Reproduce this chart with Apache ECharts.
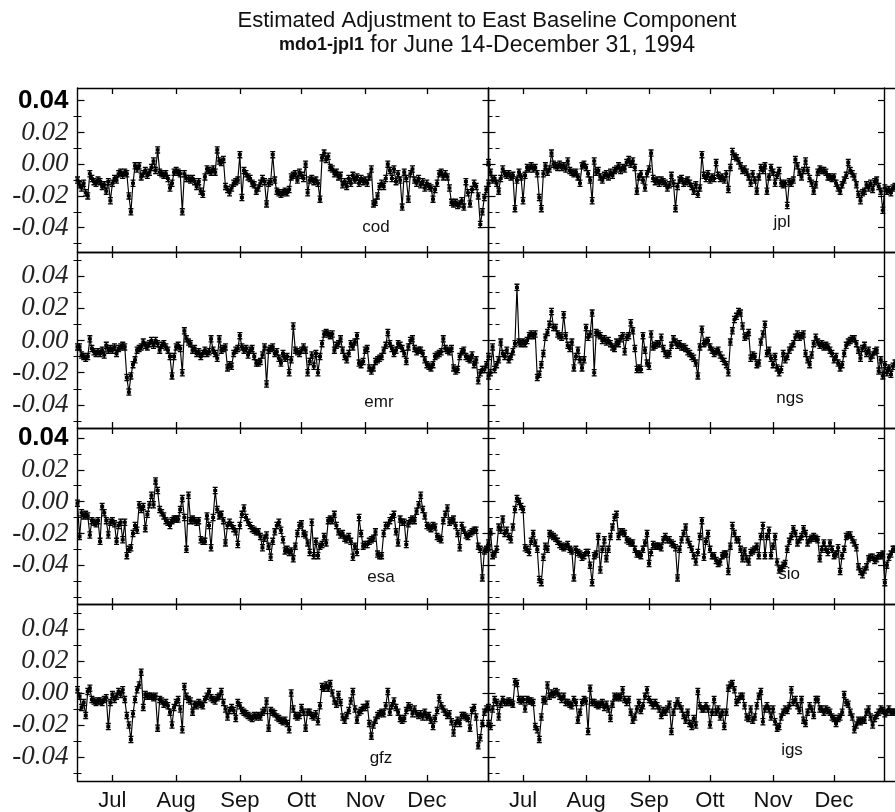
<!DOCTYPE html>
<html><head><meta charset="utf-8">
<script src="https://cdn.jsdelivr.net/npm/echarts@6/dist/echarts.min.js"></script>
<style>html,body{margin:0;padding:0;background:#fff}#c{width:895px;height:812px}</style>
</head><body><div id="c"></div>
<script>
// x = day index: 0 = 1994-06-14 ... 200 = 1994-12-31. Series values in millimetres (plotted in metres).
const monthTickDays = [17, 48, 79, 109, 140, 170];
const monthLabels = ['Jul', 'Aug', 'Sep', 'Ott', 'Nov', 'Dec'];
const yMajorTicks = [-0.04, -0.02, 0, 0.02, 0.04];
const yMinorTicks = [-0.06, -0.05, -0.03, -0.01, 0.01, 0.03, 0.05];
const panelNames = ['cod', 'jpl', 'emr', 'ngs', 'esa', 'sio', 'gfz', 'igs'];

const cod = [-10,-13,-15,-12,-18,-20,-6,-9,-11,-12,-10,-11,-14,-13,-17,-11,-23,-12,-9,-10,-6,-5,-7,-5,-6,-20,-30,-12,-1,-3,-1,-8,-6,-4,-7,-5,-2,2,-4,9,-5,-6,-7,-6,-9,-15,-12,-5,-4,-5,-6,-30,-6,-9,-9,-10,-9,-11,-14,-11,-17,-19,-8,-3,-4,-5,-3,-5,9,2,1,3,-14,-16,-18,-15,-12,-11,-10,6,-21,-4,-6,-8,-9,-12,-13,-17,-15,-12,-9,-11,-25,-12,-11,6,-10,-17,-18,-19,-18,-17,-18,-16,-8,-7,-6,-10,-5,-7,-9,0,-18,-10,-9,-11,-10,-12,-22,4,7,3,5,-2,-3,-6,-5,-8,-7,-13,-11,-14,-9,-12,-7,-10,-8,-12,-9,-11,-10,-12,-8,-3,-25,-24,-20,-14,-12,-14,-9,0,-4,-9,-3,-11,-6,-10,-27,-5,-9,-22,-6,-3,-10,-12,-9,-13,-11,-15,-12,-14,-15,-22,-16,-12,-6,-5,-8,-6,-8,-15,-24,-25,-24,-26,-25,-23,-27,-11,-18,-25,-16,-12,-14,-20,-38,-30,-21,-16,-12];
const jpl = [1,-5,-10,-9,-12,-17,-9,-3,-6,-7,-6,-8,-7,-28,-10,-5,-8,-23,-7,-2,-3,-1,-3,-2,-6,-21,-28,-6,-1,-5,-3,7,0,-1,-2,0,-2,-1,-3,2,-4,-5,-6,-5,-8,-12,-1,0,-2,-6,-10,-23,2,-5,-4,-8,-10,-7,-6,-8,-5,-7,-4,-3,-1,-4,-2,-3,1,3,0,2,-2,-17,-8,-6,-10,-15,-6,-3,7,-9,-11,-10,-12,-10,-11,-12,-15,-13,-7,-12,-28,-14,-10,-9,-12,-11,-10,-12,-14,-17,-13,-19,-15,6,-7,-9,-6,-10,-8,-9,1,-7,-9,-8,-10,-6,-16,-2,8,5,4,2,-1,-4,-3,-5,-8,-12,-6,-10,-17,-8,-2,-4,-1,-17,-8,-2,-5,-12,-7,-4,-12,-13,-12,-26,-11,-12,-10,3,-1,-5,-8,-4,2,-4,-9,-12,-17,-13,-5,-3,-4,-4,-5,-8,-8,-9,-8,-12,-15,-17,-13,-10,-7,1,-4,-6,-8,-13,-19,-23,-18,-17,-13,-15,-12,-16,-11,-10,-14,-17,-29,-15,-17,-16,-18,-15,-14];
const emr = [-4,-4,-9,-10,-11,-10,1,-5,-7,-8,-7,-8,-6,-9,-3,-6,-5,-6,-4,-8,-5,-4,-3,-4,-23,-32,-22,-15,-12,-6,-5,-4,-1,-3,-4,-2,0,-3,0,-2,-6,-3,-2,-4,-6,-10,-22,-10,-4,-3,-5,-20,6,1,-1,-2,-6,-5,-8,-7,-10,-8,-6,-8,-7,1,-6,-8,-11,1,-6,-5,-4,-17,-15,-16,-8,-6,-5,3,-4,-6,-5,-9,-6,-5,-10,-14,-14,-13,-9,-4,-27,-6,-5,-4,-8,-7,-11,-14,-8,-11,-10,-20,-12,9,-6,-7,-8,-6,-4,-6,-20,-13,-9,-16,-8,-20,-10,-2,4,5,4,3,4,-6,-3,-2,1,-6,-10,-12,-8,-2,-4,-1,3,-14,-15,-13,-6,-5,-17,-19,-17,-13,-12,-11,-10,-6,-3,5,-2,-5,-8,-6,-2,-3,-5,-8,-13,-4,0,1,-5,-7,-6,-6,-8,-12,-15,-16,-17,-15,-10,-9,-8,-7,1,-5,-6,-7,-5,-17,-19,-18,-10,-7,-6,-10,-11,-12,-9,-15,-12,-25,-20,-18,-18,-15,-10];
const ngs = [-22,-20,-4,-18,-15,-12,-1,-8,-10,-6,-12,-10,-7,-2,33,-1,-2,-1,-2,0,3,4,3,4,-23,-21,-15,-8,2,5,10,18,8,8,4,3,2,16,3,-3,-5,-1,-17,-10,-6,-12,-17,-12,8,2,4,17,-20,5,4,3,0,1,-1,0,-2,-4,-5,-1,-2,1,3,-7,2,3,11,6,-5,-18,-17,-18,3,-6,-14,-16,4,-4,-3,-2,-2,2,-5,-8,-9,-8,-3,1,-1,-3,-2,-4,-4,-5,-7,-8,-10,-11,-14,-22,-4,7,-2,-1,0,-4,-6,-8,-7,-6,-9,-11,-13,-15,-20,-1,6,13,15,18,17,9,2,3,5,-11,-9,-10,-15,-14,-1,4,10,-8,-6,-11,-15,-10,-17,-20,-18,-8,-12,-10,-6,-4,-2,2,4,2,3,4,-8,-12,-15,-9,-2,2,-1,-3,-2,-4,-3,-4,-6,-8,-12,-10,-14,-17,-15,-8,-3,-1,0,1,1,-2,-6,-11,-5,-3,-8,-6,-11,-9,-7,-6,-19,-12,-22,-15,-20,-17,-21,-16,-14];
const esa = [-1,-22,-7,-9,-8,-9,-21,-12,-13,-14,-12,-25,-3,-7,-12,-21,-13,-12,-14,-25,-15,-13,-24,-13,-34,-30,-29,-20,-15,-18,-2,-5,-3,-17,-8,-2,4,-2,13,7,-5,-7,-9,-12,-13,-15,-12,-11,-11,-11,-5,2,-10,-30,4,-12,-11,-12,-13,-12,-24,-25,-25,-9,-15,-29,-10,7,-5,-9,-8,-12,-26,-15,-13,-15,-17,-19,-27,-15,-8,-4,-10,-13,-15,-17,-18,-19,-19,-22,-29,-23,-21,-28,-35,-25,-19,-15,-13,-18,-24,-31,-30,-32,-31,-36,-28,-20,-15,-14,-20,-21,-26,-32,-13,-34,-25,-34,-28,-27,-22,-26,-12,-11,-12,-8,-15,-19,-21,-20,-23,-24,-22,-25,-35,-28,-32,-10,-20,-28,-27,-27,-25,-24,-23,-19,-33,-34,-34,-20,-15,-15,-12,-10,-8,-19,-26,-11,-13,-13,-27,-14,-12,-11,-12,-6,-2,4,-5,-9,-15,-16,-17,-15,-16,-22,-23,-24,-12,-8,-4,-13,-12,-11,-15,-20,-29,-15,-18,-21,-22,-20,-19,-18,-18,-28,-30,-48,-31,-30,-26];
const sio = [-29,-19,-34,-33,-30,-16,-18,-11,-20,-18,-22,-24,-16,-5,2,0,-3,-5,-29,-30,-32,-25,-20,-26,-30,-49,-51,-35,-28,-30,-20,-21,-22,-23,-25,-27,-28,-29,-28,-27,-30,-31,-48,-30,-32,-33,-35,-34,-32,-32,-40,-51,-34,-33,-22,-43,-30,-24,-36,-30,-22,-16,-10,-8,-22,-19,-19,-20,-24,-25,-26,-26,-30,-33,-33,-34,-30,-26,-20,-39,-32,-27,-28,-28,-28,-29,-24,-22,-24,-24,-26,-27,-29,-48,-30,-24,-20,-16,-24,-27,-30,-34,-38,-32,-22,-12,-35,-25,-20,-30,-34,-34,-37,-39,-38,-34,-33,-33,-44,-28,-15,-20,-24,-24,-30,-36,-31,-36,-38,-32,-31,-30,-28,-34,-22,-15,-34,-22,-18,-34,-28,-22,-38,-43,-42,-40,-39,-30,-25,-22,-17,-20,-26,-24,-22,-17,-20,-26,-24,-23,-22,-23,-24,-36,-30,-26,-30,-32,-26,-30,-34,-33,-29,-44,-34,-30,-22,-21,-21,-24,-26,-29,-41,-44,-46,-43,-41,-36,-35,-35,-37,-36,-34,-34,-33,-51,-40,-35,-33,-30,-30];
const gfz = [2,-2,-9,-6,-14,1,3,-4,-5,-6,-5,-5,-6,-4,-3,-21,-6,-1,-4,-2,1,-1,2,-4,-14,-20,-29,-13,-4,2,5,13,-9,-1,-2,-2,-2,-3,-2,-22,-4,-5,-7,-6,-8,-12,-20,-9,-6,-4,-10,-23,4,-2,-4,-5,-12,-7,-8,-6,-7,-8,-4,-2,1,-3,-4,-5,-3,-2,1,-6,-10,-15,-11,-9,-11,-16,-6,-8,-11,-12,-13,-14,-15,-16,-14,-15,-14,-15,-12,-11,-5,-22,-11,-12,-13,-15,-16,-17,-18,-17,-19,-23,0,-10,-14,-15,-14,-9,-12,-22,-12,-12,-14,-15,-13,-18,-8,4,3,5,3,6,0,-5,-7,-1,-6,-15,-17,-14,-11,-5,1,-10,-17,-12,-11,-9,-9,-7,-19,-27,-20,-17,-14,-13,-12,-13,-8,1,-12,-8,-5,-9,-12,-16,-17,-16,-11,-8,-9,-13,-10,-13,-14,-13,-15,-12,-15,-14,-17,-21,-16,-11,-3,-8,-10,-12,-14,-13,-18,-25,-19,-17,-19,-14,-14,-15,-16,-22,-11,-9,-15,-33,-28,-19,-12,-10,-9];
const igs = [-19,-21,-10,-4,-6,-15,-7,-4,-6,-6,-5,-6,-7,7,6,-4,-5,-4,-10,-4,-5,-5,-6,-21,-23,-29,-15,-4,-5,5,-2,0,-1,1,0,-2,-4,-2,-6,-6,-7,-8,-4,-6,-17,-12,-6,-4,-5,-24,3,-6,-6,-7,-8,-7,-6,-9,-7,-10,-16,-7,-2,-3,-2,-3,2,-4,-6,-4,-12,-17,-15,-10,-6,-11,-8,-2,2,-4,-6,-8,-6,-8,-10,-14,-11,-12,-10,-7,-24,-12,-8,-5,-8,-10,-14,-17,-12,-19,-21,-16,-20,1,-8,-10,-10,-8,-10,-20,-12,-4,-12,-10,-15,-12,-21,-12,3,5,6,2,-6,-4,-2,-2,-8,-15,-16,-10,-17,-15,-8,-2,1,-18,-10,-8,-10,-15,-10,-18,-22,-21,-15,-12,-10,-11,-8,2,-6,-4,-8,-11,-4,-17,-19,-12,-8,-10,-14,-4,-4,-10,-10,-12,-10,-11,-12,-15,-16,-19,-16,-15,-12,-1,-6,-7,-12,-15,-23,-20,-17,-18,-17,-17,-12,-10,-15,-20,-16,-14,-12,-10,-11,-13,-12,-10,-12,-12,-12];

const seriesData = [cod, jpl, emr, ngs, esa, sio, gfz, igs];

// ---- layout (pixels) ----
const rows = [
  {top: 88,  h: 164, min: -0.0553, max: 0.048,  sans04: true},
  {top: 252, h: 176, min: -0.0543, max: 0.0549, sans04: false},
  {top: 428, h: 176, min: -0.0644, max: 0.0463, sans04: true},
  {top: 604, h: 177, min: -0.055,  max: 0.0556, sans04: false}
];
const cols = [{left: 77.5, w: 411, rOff: 0}, {left: 488.5, w: 415.5, rOff: -11}];
const labelPos = [[376,227],[782,222],[379,402],[790,398],[381,577],[789,574],[381,758],[792,750]];

const grids = [], xAxes = [], yAxes = [], series = [], graphics = [];
const ink = '#000';
const serif = '"Liberation Serif", "DejaVu Serif", serif';
const sans = '"Liberation Sans", Arial, sans-serif';
const ibeam = 'path://M0,0H6V1.6H4V2.6H5.4V6.4H4V7.4H6V9H0V7.4H2V6.4H0.6V2.6H2V1.6H0Z';

for (let r = 0; r < 4; r++) {
  for (let c = 0; c < 2; c++) {
    const p = r * 2 + c, R = rows[r], C = cols[c];
    grids.push({left: C.left, top: R.top, width: C.w, height: R.h, containLabel: false});
    const xBase = {
      type: 'value', gridIndex: p, min: 0, max: 200,
      splitLine: {show: false},
      axisLine: {show: true, onZero: false, lineStyle: {color: ink, width: 1.4}},
      axisTick: {show: true, inside: true, length: 6, customValues: monthTickDays, lineStyle: {color: ink, width: 1.3}}
    };
    xAxes.push(Object.assign({}, xBase, {
      position: 'bottom',
      axisLabel: {show: r === 3, customValues: monthTickDays, margin: 9,
        formatter: v => monthLabels[monthTickDays.indexOf(v)],
        color: '#111', fontFamily: sans, fontSize: 22}
    }));
    xAxes.push(Object.assign({}, xBase, {position: 'top', axisLabel: {show: false}}));
    const minorVals = yMinorTicks.filter(v => v > R.min && v < R.max);
    const yBase = {
      type: 'value', gridIndex: p, min: R.min, max: R.max,
      splitLine: {show: false},
      axisLine: {show: true, onZero: false, lineStyle: {color: ink, width: 1.4}}
    };
    yAxes.push(Object.assign({}, yBase, {
      position: 'left',
      axisTick: {show: true, inside: true, length: 7, customValues: yMajorTicks, lineStyle: {color: ink, width: 1.2}},
      axisLabel: {show: c === 0, customValues: yMajorTicks, margin: 9,
        formatter: v => {
          const s = (Math.abs(v) < 1e-9 ? 0 : v).toFixed(2);
          return (R.sans04 && Math.abs(v - 0.04) < 1e-9) ? '{s|' + s + '}' : '{i|' + s + '}';
        },
        rich: {
          s: {fontFamily: sans, fontSize: 26, fontWeight: 'bold', color: '#000'},
          i: {fontFamily: serif, fontStyle: 'italic', fontSize: 27, color: '#222'}
        }}
    }));
    yAxes.push(Object.assign({}, yBase, {
      position: 'left', axisLine: {show: false}, axisLabel: {show: false},
      axisTick: {show: true, inside: true, length: 4, customValues: minorVals, lineStyle: {color: ink, width: 1}}
    }));
    yAxes.push(Object.assign({}, yBase, {
      position: 'right', offset: C.rOff, axisLabel: {show: false},
      axisTick: {show: true, inside: true, length: 6, customValues: yMajorTicks, lineStyle: {color: ink, width: 1.2}}
    }));
    yAxes.push(Object.assign({}, yBase, {
      position: 'right', offset: C.rOff, axisLine: {show: false}, axisLabel: {show: false},
      axisTick: {show: true, inside: true, length: 4, customValues: minorVals, lineStyle: {color: ink, width: 1}}
    }));
    series.push({
      name: panelNames[p], type: 'line', xAxisIndex: 2 * p, yAxisIndex: 4 * p,
      data: seriesData[p].map((v, i) => [i, v / 1000]),
      showAllSymbol: true, symbol: ibeam, symbolSize: [5, 7.5],
      lineStyle: {color: ink, width: 1.15}, itemStyle: {color: ink},
      emphasis: {disabled: true}, animation: false
    });
    graphics.push({type: 'text', x: labelPos[p][0], y: labelPos[p][1], z: 100,
      style: {text: panelNames[p], fill: '#111', font: '17px ' + sans, align: 'center', verticalAlign: 'middle'}});
  }
}

const chart = echarts.init(document.getElementById('c'), null, {renderer: 'canvas'});
chart.setOption({
  backgroundColor: '#fff',
  animation: false,
  title: {
    left: 482, top: 3, textAlign: 'center',
    text: '{a|Estimated Adjustment to East Baseline Component}\n{b|mdo1-jpl1}{c| for June 14-December 31, 1994}',
    textStyle: {fontFamily: sans, fontSize: 22, fontWeight: 'normal', color: '#111', lineHeight: 25,
      rich: {
        a: {fontFamily: sans, fontSize: 22, color: '#111', lineHeight: 25},
        b: {fontFamily: sans, fontSize: 18, fontWeight: 'bold', color: '#111', lineHeight: 25},
        c: {fontFamily: sans, fontSize: 23, color: '#111', lineHeight: 25}
      }}
  },
  grid: grids, xAxis: xAxes, yAxis: yAxes, series: series, graphic: graphics
});
</script></body></html>
